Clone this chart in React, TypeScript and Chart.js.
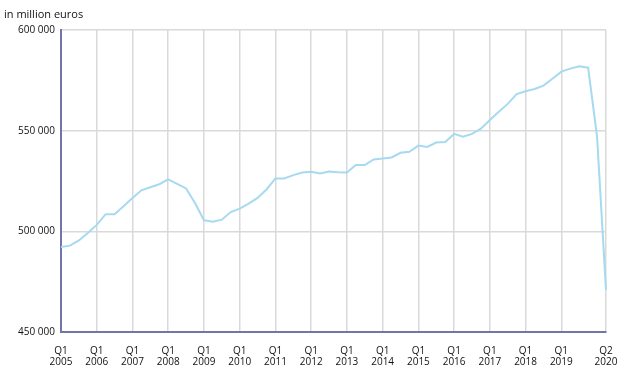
import React, { useEffect, useRef } from "react";
import { Chart, registerables } from "chart.js";

Chart.register(...registerables);

const years = [2005, 2006, 2007, 2008, 2009, 2010, 2011, 2012, 2013, 2014, 2015, 2016, 2017, 2018, 2019, 2020];
const quartersInLastYear = 2;

const values2005 = [492200, 492900, 495500, 499200];
const values2006 = [503200, 508500, 508500, 512500];
const values2007 = [516500, 520400, 521900, 523400];
const values2008 = [525800, 523600, 521300, 514100];
const values2009 = [505500, 504800, 505800, 509600];
const values2010 = [511300, 513800, 516600, 520800];
const values2011 = [526300, 526300, 527900, 529200];
const values2012 = [529600, 528700, 529700, 529400];
const values2013 = [529200, 532900, 532900, 535700];
const values2014 = [536200, 536700, 539000, 539500];
const values2015 = [542600, 541900, 544100, 544400];
const values2016 = [548400, 547000, 548400, 551000];
const values2017 = [555300, 559400, 563300, 568200];
const values2018 = [569600, 570700, 572400, 575800];
const values2019 = [579300, 580800, 582000, 581300];
const values2020 = [547000, 470900];

const seriesValues = [
  ...values2005, ...values2006, ...values2007, ...values2008,
  ...values2009, ...values2010, ...values2011, ...values2012,
  ...values2013, ...values2014, ...values2015, ...values2016,
  ...values2017, ...values2018, ...values2019, ...values2020,
];

const yTicks = [450000, 500000, 550000, 600000];
const unitLabel = "in million euros";

const categories: string[][] = [];
years.forEach((y, yi) => {
  const n = yi === years.length - 1 ? quartersInLastYear : 4;
  for (let q = 1; q <= n; q++) categories.push(["Q" + q, String(y)]);
});

const FONT = "'Open Sans', sans-serif";
const TEXT = "#111";

function fmt(v: number) {
  return String(v).replace(/\B(?=(\d{3})+(?!\d))/g, " ");
}

export default function App() {
  const ref = useRef<HTMLCanvasElement | null>(null);
  useEffect(() => {
    if (!ref.current) return;
    const last = categories.length - 1;
    // labelled ticks: Q1 of each full year, plus the final quarter
    const shown = (i: number) => i === last || (i % 4 === 0 && i < last - 1);
    const titlePlugin = {
      id: "unitTitle",
      afterDraw(chart: any) {
        const ctx = chart.ctx;
        ctx.save();
        ctx.font = "11px " + FONT;
        ctx.fillStyle = TEXT;
        ctx.textAlign = "left";
        ctx.textBaseline = "alphabetic";
        ctx.fillText(unitLabel, 4, 17.5);
        ctx.restore();
      },
    };
    const chart = new Chart(ref.current, {
      type: "line",
      data: {
        labels: categories,
        datasets: [
          {
            data: seriesValues,
            borderColor: "#a6daf0",
            borderWidth: 2,
            pointRadius: 0,
            tension: 0,
            fill: false,
          },
        ],
      },
      options: {
        responsive: false,
        animation: false,
        layout: { padding: { top: 30, right: 13, bottom: 0, left: 0 } },
        plugins: { legend: { display: false }, tooltip: { enabled: false } },
        scales: {
          x: {
            type: "category",
            offset: false,
            grid: { drawTicks: false, lineWidth: 1.5, color: "#d9d9d9" },
            border: { color: "#7474aa", width: 2 },
            ticks: {
              autoSkip: false,
              maxRotation: 0,
              minRotation: 0,
              padding: 13,
              color: TEXT,
              font: { family: FONT, size: 10, lineHeight: 1.15 },
              callback: (_v: any, i: number) => (shown(i) ? categories[i] : null),
            },
            afterFit: (s: any) => {
              s.height = 57;
              s.paddingRight = 13;
              s.paddingLeft = 0;
            },
          },
          y: {
            min: 450000,
            max: 600000,
            afterBuildTicks: (s: any) => {
              s.ticks = yTicks.map((v) => ({ value: v }));
            },
            grid: { drawTicks: false, lineWidth: 1.5, color: "#d9d9d9" },
            border: { color: "#7474aa", width: 2 },
            ticks: {
              padding: 6,
              color: TEXT,
              font: { family: FONT, size: 10 },
              callback: (v: any) => fmt(Number(v)),
            },
            afterFit: (s: any) => {
              s.width = 61;
            },
          },
        },
      },
      plugins: [titlePlugin],
    });
    return () => chart.destroy();
  }, []);
  return (
    <div style={{ position: "absolute", left: 0, top: 0 }}>
      <canvas ref={ref} width={619} height={389} style={{ display: "block" }} />
    </div>
  );
}
